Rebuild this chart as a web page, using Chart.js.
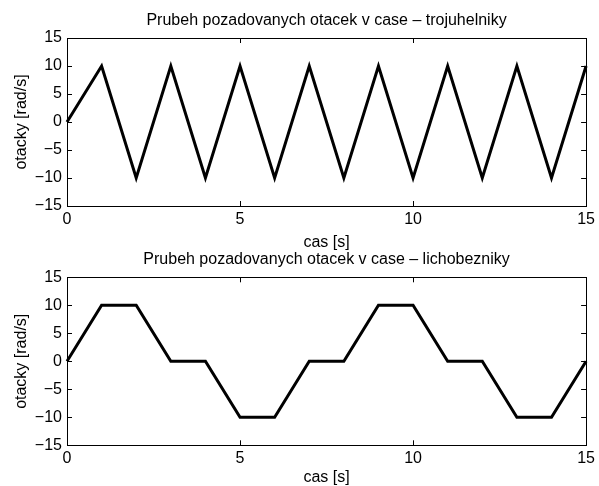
<!DOCTYPE html>
<html>
<head>
<meta charset="utf-8">
<script src="https://cdn.jsdelivr.net/npm/chart.js@4/dist/chart.umd.min.js"></script>
<style>
  html, body { margin: 0; padding: 0; background: #fff; }
  body { position: relative; width: 599px; height: 486px; overflow: hidden; }
  canvas { position: absolute; left: 0; }
  #trojuhelniky { top: 0; }
  #lichobezniky { top: 243px; }
</style>
</head>
<body>
<canvas id="trojuhelniky" width="599" height="256"></canvas>
<canvas id="lichobezniky" width="599" height="250"></canvas>
<script>
const casTroj = [0, 1, 2, 3, 4, 5, 6, 7, 8, 9, 10, 11, 12, 13, 14, 15];
const otackyTroj = [0, 10, -10, 10, -10, 10, -10, 10, -10, 10, -10, 10, -10, 10, -10, 10];

const casLich = [0, 1, 2, 3, 4, 5, 6, 7, 8, 9, 10, 11, 12, 13, 14, 15];
const otackyLich = [0, 10, 10, 0, 0, -10, -10, 0, 0, 10, 10, 0, 0, -10, -10, 0];

const xTicks = [0, 5, 10, 15];
const yTicks = [-15, -10, -5, 0, 5, 10, 15];

const FONT = 'Liberation Sans, Arial, Helvetica, sans-serif';
const SIZE = 16;

// matlab-like box with inward ticks on every side
const boxPlugin = {
  id: 'box',
  afterDraw(chart) {
    const { ctx, chartArea: { left, right, top, bottom } } = chart;
    const x = chart.scales.x;
    const y = chart.scales.y;
    ctx.save();
    ctx.strokeStyle = '#000';
    ctx.lineWidth = 1;
    ctx.beginPath();
    xTicks.forEach((v) => {
      const px = Math.round(x.getPixelForValue(v)) + 0.5;
      ctx.moveTo(px, bottom);
      ctx.lineTo(px, bottom - 5);
      ctx.moveTo(px, top);
      ctx.lineTo(px, top + 5);
    });
    yTicks.forEach((v) => {
      const py = Math.round(y.getPixelForValue(v)) + 0.5;
      ctx.moveTo(left, py);
      ctx.lineTo(left + 5, py);
      ctx.moveTo(right, py);
      ctx.lineTo(right - 5, py);
    });
    ctx.stroke();
    ctx.strokeRect(Math.round(left) + 0.5, Math.round(top) + 0.5,
      Math.round(right - left), Math.round(bottom - top));
    ctx.restore();
  },
};

function makeChart(id, cas, otacky, title, titlePadding, xTitlePadBottom, areaBottom) {
  const canvas = document.getElementById(id);
  // eslint-disable-next-line no-new
  new Chart(canvas, {
    type: 'line',
    data: {
      datasets: [{
        data: cas.map((t, i) => ({ x: t, y: otacky[i] })),
        borderColor: '#000',
        borderWidth: 3,
        pointRadius: 0,
        tension: 0,
        borderJoinStyle: 'miter',
        clip: false,
      }],
    },
    plugins: [boxPlugin],
    options: {
      responsive: false,
      animation: false,
      layout: { padding: { left: 0, right: 10, top: 0, bottom: 0 } },
      plugins: {
        legend: { display: false },
        tooltip: { enabled: false },
        title: {
          display: true,
          fullSize: false,
          text: title,
          color: '#000',
          font: { family: FONT, size: SIZE, weight: 'normal', lineHeight: 1.2 },
          padding: titlePadding,
        },
      },
      scales: {
        x: {
          type: 'linear',
          min: 0,
          max: 15,
          afterBuildTicks(scale) { scale.ticks = xTicks.map((v) => ({ value: v })); },
          afterFit(scale) { scale.height = canvas.height - areaBottom; },
          grid: { display: false, drawTicks: false },
          border: { display: false },
          ticks: {
            color: '#000',
            padding: 4,
            maxRotation: 0,
            font: { family: FONT, size: SIZE },
          },
          title: {
            display: true,
            text: 'cas [s]',
            color: '#000',
            font: { family: FONT, size: SIZE, lineHeight: 1.2 },
            padding: { top: 0, bottom: xTitlePadBottom },
          },
        },
        y: {
          type: 'linear',
          min: -15,
          max: 15,
          afterBuildTicks(scale) { scale.ticks = yTicks.map((v) => ({ value: v })); },
          afterFit(scale) { scale.width = 67; },
          grid: { display: false, drawTicks: false },
          border: { display: false },
          ticks: {
            color: '#000',
            padding: 5,
            font: { family: FONT, size: SIZE },
            callback(val) { return String(val).replace('-', '\u2212'); },
          },
          title: {
            display: true,
            text: 'otacky [rad/s]',
            color: '#000',
            font: { family: FONT, size: SIZE, lineHeight: 1.2 },
            padding: { top: 12, bottom: 0 },
          },
        },
      },
    },
  });
}

makeChart('trojuhelniky', casTroj, otackyTroj,
  'Prubeh pozadovanych otacek v case \u2013 trojuhelniky',
  { top: 11.4, bottom: 7.4 }, 3.9, 206);

makeChart('lichobezniky', casLich, otackyLich,
  'Prubeh pozadovanych otacek v case \u2013 lichobezniky',
  { top: 6.9, bottom: 8.2 }, 5.4, 202.3);
</script>
</body>
</html>
